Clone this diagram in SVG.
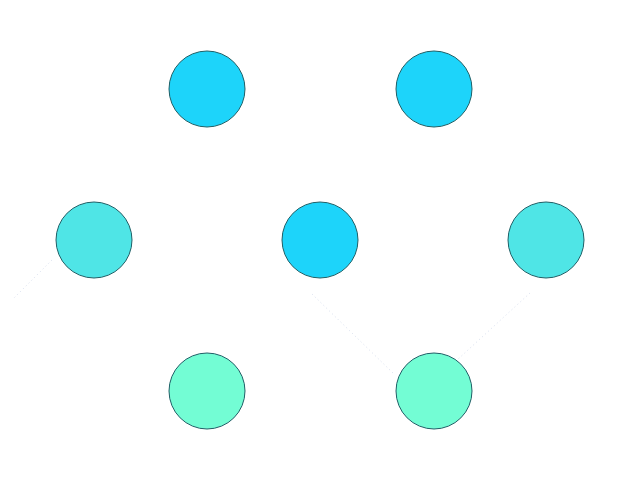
<svg xmlns="http://www.w3.org/2000/svg" width="640" height="480" viewBox="0 0 640 480">
<style>
.n{stroke:#1f5f66;stroke-width:1}
.a{fill:#1dd4fa}
.b{fill:#4fe5e6}
.c{fill:#73fdd4}
.e{stroke:#d8dfee;stroke-width:1;stroke-dasharray:1 3;fill:none}
</style>
<rect width="640" height="480" fill="#ffffff"/>
<g id="edges">
<line class="e" x1="52" y1="260" x2="14" y2="298"/>
<line class="e" x1="312" y1="294" x2="394" y2="374"/>
<line class="e" x1="530" y1="293" x2="456" y2="361"/>
</g>
<g id="n1"><circle class="n a" cx="207" cy="89" r="38"/></g>
<g id="n2"><circle class="n a" cx="434" cy="89" r="38"/></g>
<g id="n3"><circle class="n b" cx="94" cy="240" r="38"/></g>
<g id="n4"><circle class="n a" cx="320" cy="240" r="38"/></g>
<g id="n5"><circle class="n b" cx="546" cy="240" r="38"/></g>
<g id="n6"><circle class="n c" cx="207" cy="391" r="38"/></g>
<g id="n7"><circle class="n c" cx="434" cy="391" r="38"/></g>
</svg>
